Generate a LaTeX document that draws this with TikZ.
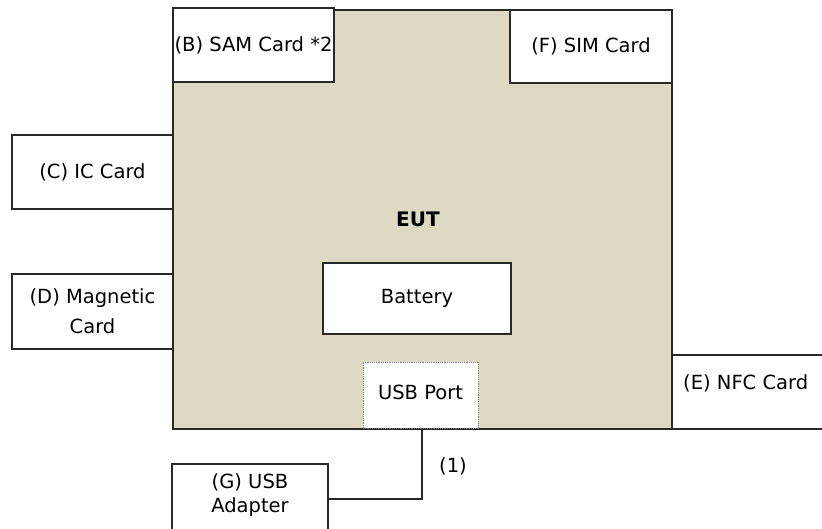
\documentclass[tikz,border=0pt]{standalone}
\usepackage{fontspec}
\setmainfont{DejaVu Sans}
\definecolor{eutfill}{RGB}{222,217,195}
\definecolor{linec}{RGB}{40,40,40}
\begin{document}
\begin{tikzpicture}[x=1pt,y=-1pt,
  box/.style={draw=linec,line width=1.2pt,fill=white,inner sep=0pt,outer sep=0pt,align=center,font=\fontsize{19.5}{24}\selectfont},
  wire/.style={draw=linec,line width=1.2pt},
  txt/.style={inner sep=0pt,font=\fontsize{19.5}{24}\selectfont}]
\useasboundingbox (0,0) rectangle (822,529);
\clip (0,0) rectangle (822,529);
\fill[white] (0,0) rectangle (822,529);
% EUT body
\node[draw=linec,line width=1.2pt,fill=eutfill,inner sep=0pt,outer sep=0pt,minimum width=499pt,minimum height=419pt] (eut) at (422.5,219.5) {};
\node[txt,font=\fontsize{20}{24}\selectfont\bfseries] (eutlbl) at (418,219) {EUT};
% cards
\node[box,minimum width=161pt,minimum height=74pt] (sam) at (253.5,45) {(B) SAM Card *2};
\node[box,minimum width=162pt,minimum height=73pt] (sim) at (591,46.5) {(F) SIM Card};
\node[box,minimum width=161pt,minimum height=74pt] (ic) at (92.5,172) {(C) IC Card};
\node[box,minimum width=161pt,minimum height=75pt,font=\fontsize{19.5}{30}\selectfont] (mag) at (92.5,311.5) {(D) Magnetic\\Card};
\node[box,minimum width=188pt,minimum height=71pt] (bat) at (417,298.5) {Battery};
\node[box,draw=gray,densely dotted,line width=1pt,minimum width=115pt,minimum height=66pt] (usb) at (420.5,395) {};
\node[txt] (usblbl) at (420.5,392) {USB Port};
\node[box,minimum width=170pt,minimum height=74pt] (nfc) at (757,392) {};
\node[txt,anchor=west] (nfclbl) at (683,383) {(E) NFC Card};
\node[box,minimum width=156pt,minimum height=80pt] (adapter) at (250,504) {};
\node[txt,align=center,font=\fontsize{19.5}{24}\selectfont] (adlbl) at (250,495) {(G) USB\\Adapter};
% connector
\coordinate (bend) at (422,499);
\draw[wire] (usb.south -| bend) -- (bend) -- (bend -| adapter.east);
\node[txt] (lbl1) at (453,466) {(1)};
\end{tikzpicture}
\end{document}
